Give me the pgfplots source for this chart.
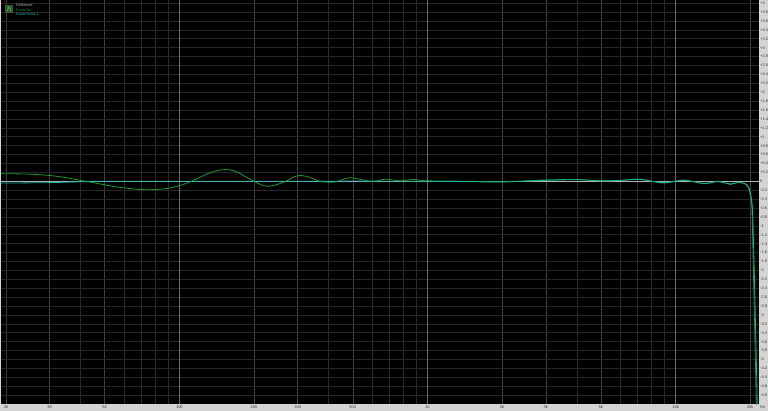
\documentclass[border=0pt]{standalone}
\usepackage{pgfplots}
\pgfplotsset{compat=1.18}
\usepackage{fontspec}
\setmainfont{Liberation Sans}

\definecolor{panel}{HTML}{D4D4D4}
\definecolor{labelgray}{HTML}{3A3A3A}
\definecolor{gridh}{HTML}{262626}
\definecolor{gridminor}{HTML}{2A2A2A}
\definecolor{gridmajor}{HTML}{3E3E3E}
\definecolor{griddecade}{HTML}{6A6A6A}
\definecolor{zeroline}{HTML}{A8B4B4}
\definecolor{roomgreen}{HTML}{1E9A2A}
\definecolor{noiseteal}{HTML}{18AFA5}
\definecolor{iconbox}{HTML}{2E5E2E}

\pgfplotstableread{
f      db
19.1   0.17
20     0.17
25     0.16
30     0.13
35     0.08
40     0.02
45    -0.03
50    -0.08
55    -0.12
60    -0.15
65    -0.17
70    -0.185
75    -0.19
80    -0.185
85    -0.175
90    -0.16
95    -0.13
100   -0.10
105   -0.06
112    0.0
120    0.08
130    0.17
140    0.23
150    0.26
158    0.26
165    0.24
175    0.18
185    0.10
200    0.0
210   -0.06
220   -0.10
231   -0.11
245   -0.08
260   -0.03
275    0.03
290    0.10
306    0.13
325    0.11
345    0.06
370    0.0
400   -0.02
430   -0.01
460    0.05
488    0.08
520    0.06
560    0.02
600    0.0
640    0.02
676    0.05
720    0.03
780    0.01
870    0.04
950    0.02
1000   0.01
1500   0.0
2000  -0.01
3000   0.03
4000   0.04
5000   0.01
6000   0.02
7200   0.05
8900  -0.04
10800  0.03
13000 -0.05
14800  0.0
16700 -0.07
17900 -0.02
19200 -0.07
19700 -0.15
20060 -0.35
20300 -0.55
20450 -1.2
20600 -2.0
20750 -2.8
20900 -3.6
21050 -4.4
21200 -5.3
}\roomdata

\pgfplotstableread{
f      db
19.1  -0.04
25    -0.035
30    -0.03
35    -0.02
40    -0.01
45     0.0
100    0.0
200    0.0
300    0.0
400    0.0
500    0.005
600    0.0
800    0.0
1000   0.0
1500  -0.01
2000  -0.015
3000   0.02
4000   0.035
5000   0.01
6000   0.02
7200   0.04
8900  -0.03
10800  0.02
13000 -0.05
14800 -0.01
16700 -0.06
17900 -0.02
19200 -0.06
19700 -0.13
20100 -0.30
20400 -0.60
20600 -1.3
20800 -2.2
21000 -3.2
21200 -4.2
21400 -5.3
}\noisedata

\begin{document}
\begin{tikzpicture}
\fill[panel] (0,0) rectangle (768bp,411bp);
\useasboundingbox (0,0) rectangle (768bp,411bp);
\begin{axis}[
  at={(1bp,7bp)}, anchor=south west,
  scale only axis, width=758bp, height=404bp,
  xmode=log, xmin=19.1, xmax=21700,
  ymin=-5.0, ymax=4.07,
  axis background/.style={fill=black},
  axis line style={draw=none},
  major tick length=0pt, minor tick length=0pt,
  /pgf/number format/assume math mode=true,
  tick label style={font=\fontsize{4}{4.5}\selectfont, text=labelgray},
  xtick={20,30,50,100,200,300,500,1000,2000,3000,5000,10000,20000},
  xticklabels={20,30,50,100,200,300,500,1k,2k,3k,5k,10k,20k},
  minor xtick={40,60,70,80,90,400,600,700,800,900,4000,6000,7000,8000,9000},
  x tick label style={anchor=north, inner sep=0pt, yshift=-1.2bp},
  ytick={-4.8,-4.6,-4.4,-4.2,-4,-3.8,-3.6,-3.4,-3.2,-3,-2.8,-2.6,-2.4,-2.2,-2,-1.8,-1.6,-1.4,-1.2,-1,-0.8,-0.6,-0.4,-0.2,0,0.2,0.4,0.6,0.8,1,1.2,1.4,1.6,1.8,2,2.2,2.4,2.6,2.8,3,3.2,3.4,3.6,3.8,4},
  yticklabels={-4.8,-4.6,-4.4,-4.2,-4,-3.8,-3.6,-3.4,-3.2,-3,-2.8,-2.6,-2.4,-2.2,-2,-1.8,-1.6,-1.4,-1.2,-1,-0.8,-0.6,-0.4,-0.2,0,+0.2,+0.4,+0.6,+0.8,+1,+1.2,+1.4,+1.6,+1.8,+2,+2.2,+2.4,+2.6,+2.8,+3,+3.2,+3.4,+3.6,+3.8,+4},
  yticklabel pos=right,
  y tick label style={anchor=west, inner sep=0pt, xshift=1bp},
  xmajorgrids, xminorgrids, ymajorgrids,
  major x grid style={draw=gridmajor, line width=0.5bp},
  minor x grid style={draw=gridminor, line width=0.5bp},
  major y grid style={draw=gridh, line width=0.5bp},
  extra x ticks={100,1000,10000},
  extra x tick labels={},
  extra x tick style={grid=major, major x grid style={draw=griddecade, line width=0.5bp}},
  extra y ticks={0},
  extra y tick labels={},
  extra y tick style={grid=major, major y grid style={draw=zeroline, line width=0.5bp}},
  clip=true,
]
\addplot[roomgreen, line width=0.8bp, smooth, tension=0.5] table[x=f, y=db] {\roomdata};
\addplot[noiseteal, line width=0.8bp, smooth, tension=0.5] table[x=f, y=db] {\noisedata};
\end{axis}
% legend
\fill[iconbox] (5bp,398bp) rectangle (13bp,406bp);
\draw[roomgreen!70!white, line width=0.6bp] (7bp,400bp) -- (9bp,404bp) -- (11bp,400bp);
\begin{scope}[every node/.style={anchor=west, inner sep=0pt, font=\fontsize{3.6}{4}\selectfont}]
\node[text=white!75!black] at (16bp,405.5bp) {Reference};
\node[text=roomgreen] at (16bp,401bp) {Room 3a};
\node[text=noiseteal] at (16bp,396.5bp) {Radio Noise 1};
\end{scope}
\node[anchor=west, inner sep=0pt, text=labelgray, font=\fontsize{4}{4.5}\selectfont] at (760bp,3.5bp) {Hz};
\end{tikzpicture}
\end{document}
